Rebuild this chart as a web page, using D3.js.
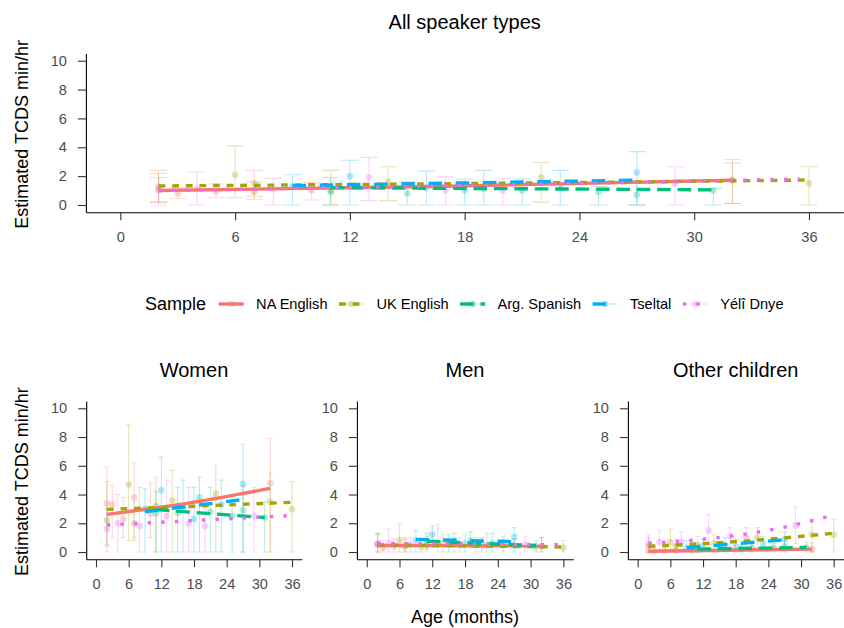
<!DOCTYPE html>
<html>
<head>
<meta charset="utf-8">
<script src="https://cdn.jsdelivr.net/npm/d3@7"></script>
<style>
  body { margin: 0; background: #fff; }
  svg { display: block; font-family: "Liberation Sans", Arial, Helvetica, sans-serif; }
</style>
</head>
<body>
<svg id="chart" width="844" height="628"></svg>
<script>
// ---- data ---------------------------------------------------------------
const samples = ["NA English", "UK English", "Arg. Spanish", "Tseltal", "Yélî Dnye"];
const sampleColors = ["#F8766D", "#A3A500", "#00BF7D", "#00B0F6", "#E76BF3"];
// ggplot-style line types, expressed in multiples of the line width
const sampleDashes = [null, "22", "42", "44", "13"];
const panelTitles = ["All speaker types", "Women", "Men", "Other children"];
const xTicks = [0, 6, 12, 18, 24, 30, 36];
const yTicks = [0, 2, 4, 6, 8, 10];

// Model fits per sample: [age in months, estimated min/hr]
const allFit = [
  [[2, 1.0], [17, 1.3], [32, 1.72]],
  [[2, 1.32], [19, 1.5], [36, 1.73]],
  [[11, 1.2], [31, 1.05]],
  [[9, 1.34], [27, 1.72]],
  [[2, 1.0], [18, 1.35], [35.5, 1.8]]
];
const womenFit = [
  [[2, 2.62], [17, 3.4], [32, 4.43]],
  [[2, 2.97], [19, 3.2], [36, 3.46]],
  [[11, 2.95], [31, 2.39]],
  [[9, 2.8], [27, 3.65]],
  [[2, 1.88], [35.5, 2.53]]
];
const menFit = [
  [[2, 0.45], [32, 0.42]],
  [[2, 0.5], [36, 0.35]],
  [[11, 0.75], [31, 0.45]],
  [[9, 0.88], [27, 0.72]],
  [[2, 0.6], [35.5, 0.5]]
];
const otherFit = [
  [[2, 0.05], [32, 0.2]],
  [[2, 0.4], [18, 0.72], [36, 1.3]],
  [[11, 0.2], [31, 0.32]],
  [[9, 0.3], [27, 0.85]],
  [[2, 0.6], [10, 0.82], [18, 1.15], [26, 1.65], [35.5, 2.52]]
];

// Observed values per sample: [age, mean, lower, upper]
const allObs = [
  [[2, 1.3, 0.2, 2.4], [3, 0.8, 0.45, 1.2], [5, 0.95, 0.5, 1.45], [7, 1.5, 0.6, 2.4], [10, 1.0, 0.35, 1.55], [32, 1.7, 0.1, 3.15]],
  [[2, 1.1, 0.2, 2.2], [6, 2.1, 0.5, 4.1], [7, 0.9, 0.4, 1.6], [11, 1.0, 0, 2.4], [14, 1.6, 0.3, 2.65], [22, 1.9, 0.2, 2.95], [32, 1.75, 0.1, 2.9], [36, 1.5, 0, 2.65]],
  [[11, 0.9, 0, 1.9], [15, 0.8, 0, 1.6], [19, 1.1, 0, 2.4], [21, 1.0, 0, 1.8], [25, 0.9, 0, 1.27], [27, 0.7, 0, 1.5], [31, 1.0, 0, 1.15]],
  [[9, 1.3, 0, 2.1], [12, 2.0, 0, 3.1], [16, 1.2, 0, 2.35], [18, 1.0, 0, 1.8], [23, 1.2, 0, 2.4], [27, 2.25, 0, 3.7]],
  [[2, 1.0, 0, 1.9], [4, 1.1, 0, 2.3], [8, 1.1, 0, 1.85], [13, 1.9, 0.3, 3.3], [17, 1.0, 0, 1.95], [20, 1.0, 0, 1.85], [29, 1.5, 0, 2.65]]
];
const womenObs = [
  [[2, 3.39, 0.4, 5.9], [3, 3.3, 1.0, 4.6], [5, 2.3, 1.0, 3.8], [7, 3.8, 1.0, 6.2], [10, 2.7, 1.0, 4.8], [32, 4.78, 0, 7.9]],
  [[2, 2.2, 0.5, 4.9], [6, 4.7, 0.8, 8.85], [7, 2.0, 0.8, 3.5], [11, 3.2, 0, 5.2], [14, 3.6, 0, 5.7], [22, 4.05, 0, 6.0], [32, 3.5, 0, 5.5], [36, 2.97, 0, 4.9]],
  [[11, 2.7, 0, 4.2], [15, 2.7, 0, 4.5], [19, 3.8, 0, 5.2], [21, 2.8, 0, 4.5], [25, 2.5, 0, 4.0], [27, 2.9, 0, 4.6], [31, 2.4, 0, 3.5]],
  [[9, 3.0, 0, 4.4], [12, 4.3, 0, 6.6], [16, 3.0, 0, 5.0], [18, 2.3, 0, 4.5], [23, 3.3, 0, 5.0], [27, 4.75, 0, 7.5]],
  [[2, 1.6, 0, 3.0], [4, 2.0, 0, 4.0], [8, 1.8, 0, 4.5], [13, 2.5, 0, 5.0], [17, 2.0, 0, 4.5], [20, 1.8, 0, 3.0], [29, 2.5, 0, 4.5]]
];
const menObs = [
  [[2, 0.5, 0, 1.3], [3, 0.3, 0, 0.8], [5, 0.4, 0, 0.9], [7, 0.45, 0, 1.0], [10, 0.35, 0, 0.8], [32, 0.4, 0, 1.0]],
  [[2, 0.55, 0, 1.2], [6, 0.8, 0, 1.95], [7, 0.4, 0, 0.9], [11, 0.5, 0, 1.1], [14, 0.6, 0, 1.2], [22, 0.5, 0, 1.3], [32, 0.4, 0, 1.0], [36, 0.3, 0, 0.8]],
  [[11, 0.7, 0.2, 1.3], [15, 0.6, 0, 1.2], [19, 0.8, 0.3, 1.4], [21, 0.5, 0, 1.0], [25, 0.5, 0, 1.1], [27, 0.45, 0, 0.9], [31, 0.4, 0, 0.8]],
  [[9, 0.8, 0, 1.5], [12, 1.2, 0.4, 1.8], [16, 0.8, 0, 1.3], [18, 0.6, 0, 1.2], [23, 0.6, 0, 1.3], [27, 1.05, 0.3, 1.7]],
  [[2, 0.6, 0, 1.3], [4, 0.6, 0, 1.6], [8, 0.5, 0, 1.0], [13, 0.6, 0, 1.9], [17, 0.5, 0, 1.0], [20, 0.5, 0, 1.0], [29, 0.5, 0, 1.1]]
];
const otherObs = [
  [[2, 0.1, 0, 0.5], [3, 0.05, 0, 0.3], [5, 0.1, 0, 0.4], [7, 0.1, 0, 0.5], [10, 0.1, 0, 0.4], [32, 0.2, 0, 0.6]],
  [[2, 0.4, 0, 1.0], [6, 0.7, 0, 1.6], [7, 0.4, 0, 0.9], [11, 0.5, 0, 1.1], [14, 0.6, 0, 1.2], [22, 1.0, 0.3, 1.7], [32, 1.2, 0, 2.3], [36, 1.2, 0, 2.3]],
  [[11, 0.2, 0, 0.5], [15, 0.3, 0, 0.6], [19, 0.2, 0, 0.5], [21, 0.3, 0, 0.7], [25, 0.3, 0, 0.6], [27, 0.4, 0, 0.8], [31, 0.3, 0, 0.7]],
  [[9, 0.3, 0, 0.8], [12, 0.4, 0, 0.9], [16, 0.5, 0, 1.0], [18, 0.4, 0, 0.9], [23, 0.6, 0, 1.1], [27, 0.9, 0.2, 1.4]],
  [[2, 0.6, 0, 1.2], [4, 0.7, 0, 1.5], [8, 0.7, 0, 1.4], [13, 1.5, 0.2, 2.6], [17, 1.1, 0.3, 1.7], [20, 1.0, 0.3, 1.7], [29, 1.85, 0.6, 3.15]]
];

// ---- layout -------------------------------------------------------------
const LW = 3.4;          // fitted line width (also the dash unit)
const CAP = 0.45;        // half width of error-bar caps, months
const TICK_FONT = 14.6;

const panels = [
  { title: panelTitles[0], fit: allFit, obs: allObs, xr: [85.9, 843.4], yr: [212.2, 53.5], tx: 464.7, ty: 29, yTitle: true },
  { title: panelTitles[1], fit: womenFit, obs: womenObs, xr: [86.2, 301.8], yr: [559.2, 401.1], tx: 194, ty: 376.7, yTitle: true },
  { title: panelTitles[2], fit: menFit, obs: menObs, xr: [356.9, 573.2], yr: [559.2, 401.1], tx: 465, ty: 376.7, yTitle: false },
  { title: panelTitles[3], fit: otherFit, obs: otherObs, xr: [627.9, 843.5], yr: [559.2, 401.1], tx: 735.7, ty: 376.7, yTitle: false }
];

const svg = d3.select("#chart");

function dashArray(code) {
  if (!code) return null;
  return code.split("").map(c => (+c) * LW).join(",");
}

panels.forEach(p => {
  const x = d3.scaleLinear().domain([-1.8, 37.8]).range(p.xr);
  const y = d3.scaleLinear().domain([-0.5, 10.5]).range(p.yr);
  const g = svg.append("g");

  // error bars and observed means
  p.obs.forEach((rows, si) => {
    const col = sampleColors[si];
    g.append("g").selectAll("path").data(rows).join("path")
      .attr("d", d => {
        const xl = x(d[0] - CAP), xc = x(d[0]), xh = x(d[0] + CAP);
        return `M${xl},${y(d[3])}H${xh}M${xc},${y(d[3])}V${y(d[2])}M${xl},${y(d[2])}H${xh}`;
      })
      .attr("fill", "none")
      .attr("stroke", col)
      .attr("stroke-width", 1.1)
      .attr("stroke-opacity", 0.28);
    g.append("g").selectAll("circle").data(rows).join("circle")
      .attr("cx", d => x(d[0]))
      .attr("cy", d => y(d[1]))
      .attr("r", 3.3)
      .attr("fill", col)
      .attr("fill-opacity", 0.3);
  });

  // fitted trends
  const line = d3.line().x(d => x(d[0])).y(d => y(d[1])).curve(d3.curveMonotoneX);
  p.fit.forEach((pts, si) => {
    g.append("path")
      .attr("d", line(pts))
      .attr("fill", "none")
      .attr("stroke", sampleColors[si])
      .attr("stroke-width", LW)
      .attr("stroke-linecap", "butt")
      .attr("stroke-dasharray", dashArray(sampleDashes[si]));
  });

  // axes
  const xAxis = g.append("g")
    .attr("transform", `translate(0,${p.yr[0]})`)
    .call(d3.axisBottom(x).tickValues(xTicks).tickSize(8).tickSizeOuter(0).tickPadding(11));
  const yAxis = g.append("g")
    .attr("transform", `translate(${p.xr[0]},0)`)
    .call(d3.axisLeft(y).tickValues(yTicks).tickSize(8).tickSizeOuter(0).tickPadding(11));
  [xAxis, yAxis].forEach(a => {
    a.attr("font-family", null).attr("font-size", null);
    a.select(".domain").attr("stroke", "#000").attr("stroke-width", 1.1);
    a.selectAll(".tick line").attr("stroke", "#333").attr("stroke-width", 1.1);
    a.selectAll(".tick text").attr("fill", "#4D4D4D").style("font-size", TICK_FONT + "px");
  });

  // panel title
  svg.append("text")
    .attr("x", p.tx).attr("y", p.ty)
    .attr("text-anchor", "middle")
    .style("font-size", "20px")
    .attr("fill", "#000")
    .text(p.title);

  if (p.yTitle) {
    svg.append("text")
      .attr("transform", `translate(28,${(p.yr[0] + p.yr[1]) / 2 + 1.5}) rotate(-90)`)
      .attr("text-anchor", "middle")
      .style("font-size", "18px")
      .attr("fill", "#000")
      .text("Estimated TCDS min/hr");
  }
});

// shared x-axis title for the bottom row
svg.append("text")
  .attr("x", 465).attr("y", 623)
  .attr("text-anchor", "middle")
  .style("font-size", "18px")
  .attr("fill", "#000")
  .text("Age (months)");

// ---- legend -------------------------------------------------------------
const legend = svg.append("g");
const LY = 304;
let cx = 0;
const lt = legend.append("text")
  .attr("x", cx).attr("y", LY).attr("dy", "0.36em")
  .style("font-size", "18px").attr("fill", "#000")
  .text("Sample");
cx += lt.node().getComputedTextLength() + 12.6;
samples.forEach((name, si) => {
  const col = sampleColors[si];
  const key = legend.append("g").attr("transform", `translate(${cx},${LY})`);
  key.append("line").attr("x1", 0).attr("x2", 25)
    .attr("stroke", col).attr("stroke-width", 1.1).attr("stroke-opacity", 0.28);
  key.append("circle").attr("cx", 12.5).attr("cy", 0).attr("r", 3.3)
    .attr("fill", col).attr("fill-opacity", 0.3);
  key.append("line").attr("x1", 0).attr("x2", 25)
    .attr("stroke", col).attr("stroke-width", LW)
    .attr("stroke-linecap", "butt")
    .attr("stroke-dasharray", dashArray(sampleDashes[si]));
  cx += 25 + 12.4;
  const t = legend.append("text")
    .attr("x", cx).attr("y", LY).attr("dy", "0.36em")
    .style("font-size", "14.6px").attr("fill", "#000")
    .text(name);
  cx += t.node().getComputedTextLength() + (si < samples.length - 1 ? 11.5 : 0);
});
legend.attr("transform", `translate(${464.3 - cx / 2},0)`);
</script>
</body>
</html>
